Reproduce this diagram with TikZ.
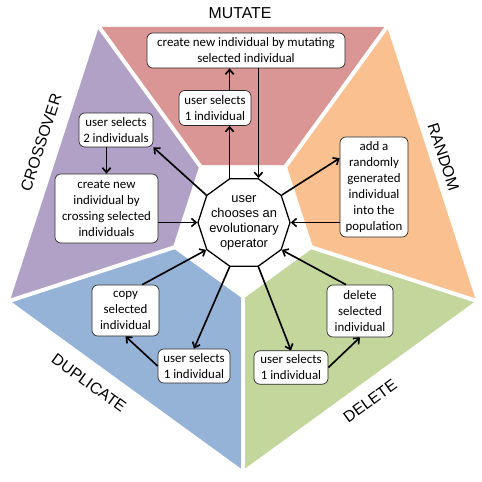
\documentclass[tikz,border=0pt]{standalone}
\definecolor{evoRed}{RGB}{217,150,148}
\definecolor{evoPurple}{RGB}{178,161,199}
\definecolor{evoOrange}{RGB}{250,192,144}
\definecolor{evoBlue}{RGB}{149,179,215}
\definecolor{evoGreen}{RGB}{195,214,155}
\usepackage{fontspec}
\setmainfont{Carlito}
\newfontfamily\arialfont{Liberation Sans}
\newcommand{\boxfont}{\fontsize{11}{13.6}\selectfont}
\newcommand{\opfont}{\arialfont\fontsize{11}{12.8}\selectfont}
\newcommand{\sectfont}{\arialfont\fontsize{13.5}{16}\selectfont}
\usepackage{tikz}
\usetikzlibrary{arrows.meta,positioning,shapes.geometric,calc}

\begin{document}
\begin{tikzpicture}[x=0.03cm, y=0.03cm,
  box/.style={draw=black!85, fill=white, line width=0.6pt, rounded corners=5pt,
              align=center, inner xsep=3pt, inner ysep=1pt, font=\boxfont},
  oper/.style={draw, fill=white, line width=1.1pt, regular polygon,
               regular polygon sides=10, minimum size=2.76cm, inner sep=0pt},
  sect/.style={font=\sectfont},
  arr/.style={-{Straight Barb[length=4pt,width=7pt]}, line width=1.4pt}
]
  \useasboundingbox (-243,-256) rectangle (239,225);

  % the five operator sectors
  \foreach \a/\c in {54/evoRed, -18/evoOrange, -90/evoGreen, -162/evoBlue, 126/evoPurple}
    \fill[\c] (\a:74) -- (\a:245) -- ({\a+72}:245) -- ({\a+72}:74) -- cycle;
  \foreach \a in {54,126,198,270,342}
    \draw[white, line width=3.4pt] (\a:70) -- (\a:250);

  \node[sect] (lmut) at (-3,211.5) {MUTATE};
  \node[sect, rotate=72] (lcross) at (-202,82.5) {CROSSOVER};
  \node[sect, rotate=-72] (lrand) at (200.5,68) {RANDOM};
  \node[sect, rotate=-36] (ldup) at (-154,-158) {DUPLICATE};
  \node[sect, rotate=36] (ldel) at (127,-176) {DELETE};

  % centre
  \node[oper] (op) at (1,2.5) {};
  \node[font=\opfont, align=center] (optext) at (op) {user\\chooses an\\evolutionary\\operator};

  % mutate
  \node[box, minimum width=5.94cm, minimum height=1.05cm] (mnew) at (3,174.5)
        {create new individual by mutating\\selected individual};
  \node[box, minimum width=2.16cm, minimum height=1.05cm] (msel) at (-28,117)
        {user selects\\1 individual};
  \draw[arr] (op.108) -- (op.108 |- msel.south);
  \draw[arr] (msel.north -| op.108) -- (mnew.south -| op.108);
  \draw[arr] (mnew.south -| op.72) -- (op.72);

  % crossover
  \node[box, minimum width=2.22cm, minimum height=1.02cm] (u2) at (-127,95)
        {user selects\\2 individuals};
  \node[box, minimum width=3.09cm, minimum height=2.07cm] (cross) at (-136.5,16.5)
        {create new\\individual by\\crossing selected\\individuals};
  \draw[arr] (op.144) -- (u2.south east);
  \draw[arr] (u2.south -| cross.north) -- (cross.north);
  \draw[arr] (cross.east |- op.west) -- (op.west);

  % random
  \node[box, minimum width=2.04cm, minimum height=3cm] (rand) at (131,38)
        {add a\\randomly\\generated\\individual\\into the\\population};
  \draw[arr] (op.36) -- (rand.140);
  \draw[arr] (rand.west |- op.east) -- (op.east);

  % duplicate
  \node[box, minimum width=2.01cm, minimum height=1.53cm] (copy) at (-117.5,-85.5)
        {copy\\selected\\individual};
  \node[box, minimum width=2.16cm, minimum height=1.02cm] (dsel) at (-49,-141)
        {user selects\\1 individual};
  \draw[arr] (copy.57) -- (op.216);
  \draw[arr] (op.252) -- (dsel.north);
  \draw[arr] (dsel.west) -- (copy.south);

  % delete
  \node[box, minimum width=1.98cm, minimum height=1.56cm] (del) at (117,-86)
        {delete\\selected\\individual};
  \node[box, minimum width=2.22cm, minimum height=1cm] (delsel) at (48,-142.5)
        {user selects\\1 individual};
  \draw[arr] (op.288) -- (delsel.north);
  \draw[arr] (delsel.east) -- (del.south);
  \draw[arr] (del.118) -- (op.324);
\end{tikzpicture}
\end{document}
